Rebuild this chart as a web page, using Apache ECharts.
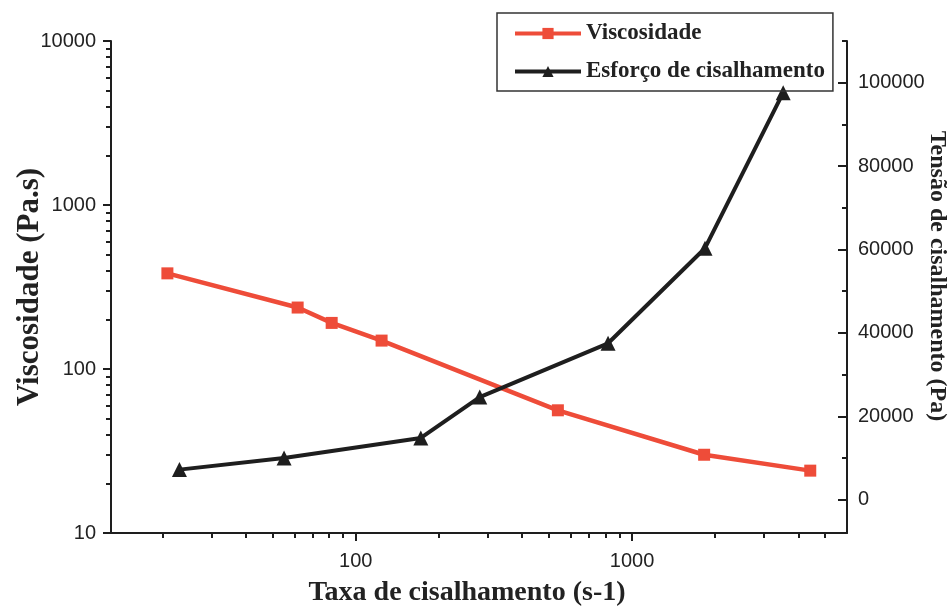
<!DOCTYPE html>
<html>
<head>
<meta charset="utf-8">
<script src="https://cdn.jsdelivr.net/npm/echarts@6/dist/echarts.min.js"></script>
<style>
  html, body { margin: 0; padding: 0; background: #fff; }
  #chart { width: 949px; height: 611px; }
</style>
</head>
<body>
<div id="chart"></div>
<script>
// viscosidade (eixo esquerdo, log)
var viscRate = [20.8, 61.6, 81.8, 124, 539, 1824, 4417];
var viscosity = [383, 237, 191, 149, 56, 30, 24];
// esforço de cisalhamento (eixo direito, linear)
var stressRate = [23, 55, 172, 281, 819, 1837, 3525];
var stress = [7200, 10000, 14800, 24600, 37500, 60300, 97600];

var xMajor = [100, 1000];
var xMinor = [20, 30, 40, 50, 60, 70, 80, 90, 200, 300, 400, 500, 600, 700, 800, 900, 2000, 3000, 4000, 5000];
var yMajor = [10, 100, 1000, 10000];
var yMinor = [20, 30, 40, 50, 60, 70, 80, 90, 200, 300, 400, 500, 600, 700, 800, 900, 2000, 3000, 4000, 5000, 6000, 7000, 8000, 9000];
var rMajor = [0, 20000, 40000, 60000, 80000, 100000];
var rMinor = [10000, 30000, 50000, 70000, 90000, 110000];

function pairs(xs, ys) {
    var out = [];
    for (var i = 0; i < xs.length; ++i) out.push([xs[i], ys[i]]);
    return out;
}
function plain(v) { return String(Math.round(v)); }

var RED = '#ee4c39';
var INK = '#1e1e1e';
var numFont = { fontFamily: 'Liberation Sans', fontSize: 20, color: '#222' };
function nameFont(size, pad) {
    return { fontFamily: 'Liberation Serif', fontWeight: 'bold', fontSize: size, color: '#222', padding: pad || 0 };
}
// grid 0 holds the data, grid 1 (same box) only carries the minor ticks
var gridBox = { left: 111, right: 102, top: 41, bottom: 78, outerBoundsMode: 'none', containLabel: false };

var chart = echarts.init(document.getElementById('chart'));

var option = {
    animation: false,
    backgroundColor: '#fff',
    grid: [
        Object.assign({}, gridBox),
        Object.assign({}, gridBox)
    ],
    legend: {
        orient: 'vertical',
        left: 497, top: 13,
        padding: [9, 8, 8, 16],
        itemGap: 15,
        itemWidth: 66, itemHeight: 14,
        borderColor: '#333', borderWidth: 1.5,
        lineStyle: { width: 4 },
        textStyle: { fontFamily: 'Liberation Serif', fontWeight: 'bold', fontSize: 23, color: '#222' },
        data: ['Viscosidade', 'Esforço de cisalhamento']
    },
    xAxis: [{
        type: 'log', gridIndex: 0, min: 13, max: 6000,
        name: 'Taxa de cisalhamento (s-1)', nameLocation: 'middle', nameGap: 46,
        nameMoveOverlap: false,
        nameTextStyle: nameFont(28, [0, 24, 0, 0]),
        axisLine: { onZero: false, lineStyle: { color: INK, width: 2 } },
        axisTick: { customValues: xMajor, length: 8, lineStyle: { color: INK, width: 2 } },
        axisLabel: Object.assign({ customValues: xMajor, margin: 18, formatter: plain }, numFont),
        splitLine: { show: false }
    }, {
        type: 'log', gridIndex: 1, min: 13, max: 6000,
        axisLine: { show: false, onZero: false },
        axisTick: { customValues: xMinor, length: 5, lineStyle: { color: INK, width: 2 } },
        axisLabel: { show: false },
        splitLine: { show: false }
    }],
    yAxis: [{
        type: 'log', gridIndex: 0, min: 10, max: 10000, position: 'left',
        name: 'Viscosidade (Pa.s)', nameLocation: 'middle', nameGap: 66,
        nameMoveOverlap: false,
        nameTextStyle: nameFont(31),
        axisLine: { onZero: false, lineStyle: { color: INK, width: 2 } },
        axisTick: { customValues: yMajor, length: 8, lineStyle: { color: INK, width: 2 } },
        axisLabel: Object.assign({ customValues: yMajor, margin: 15, formatter: plain }, numFont),
        splitLine: { show: false }
    }, {
        type: 'value', gridIndex: 0, min: -8000, max: 110000, position: 'right',
        name: 'Tensão de cisalhamento (Pa)', nameLocation: 'middle', nameGap: 78,
        nameMoveOverlap: false,
        nameRotate: -90,
        nameTextStyle: nameFont(24, [0, 22, 0, 0]),
        axisLine: { onZero: false, lineStyle: { color: INK, width: 2 } },
        axisTick: { customValues: rMajor, inside: true, length: 9, lineStyle: { color: INK, width: 2 } },
        axisLabel: Object.assign({ customValues: rMajor, margin: 11, formatter: plain }, numFont),
        splitLine: { show: false }
    }, {
        type: 'log', gridIndex: 1, min: 10, max: 10000, position: 'left',
        axisLine: { show: false, onZero: false },
        axisTick: { show: true, customValues: yMinor, length: 5, lineStyle: { color: INK, width: 2 } },
        axisLabel: { show: false },
        splitLine: { show: false }
    }, {
        type: 'value', gridIndex: 1, min: -8000, max: 110000, position: 'right',
        axisLine: { show: false, onZero: false },
        axisTick: { customValues: rMinor, inside: true, length: 5, lineStyle: { color: INK, width: 2 } },
        axisLabel: { show: false },
        splitLine: { show: false }
    }],
    series: [{
        name: 'Viscosidade', type: 'line',
        xAxisIndex: 0, yAxisIndex: 0,
        symbol: 'rect', symbolSize: 12,
        color: RED,
        lineStyle: { width: 4.5, color: RED },
        itemStyle: { color: RED },
        data: pairs(viscRate, viscosity)
    }, {
        name: 'Esforço de cisalhamento', type: 'line',
        xAxisIndex: 0, yAxisIndex: 1,
        symbol: 'triangle', symbolSize: 15,
        color: INK,
        lineStyle: { width: 4, color: INK },
        itemStyle: { color: INK },
        data: pairs(stressRate, stress)
    }]
};
chart.setOption(option);
</script>
</body>
</html>
